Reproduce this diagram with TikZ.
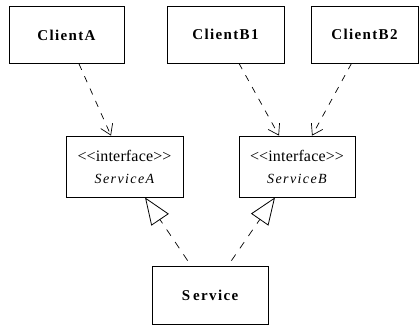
\documentclass[tikz,border=0pt]{standalone}
\usepackage{fontspec}
\setmainfont{Liberation Serif}
\newfontfamily\namefont[LetterSpace=9]{Liberation Serif}
\newfontfamily\stereofont[LetterSpace=1]{Liberation Serif}
\newfontfamily\ifacenamefont[LetterSpace=10]{Liberation Serif}
\usetikzlibrary{arrows.meta}

\tikzset{
  classbox/.style={draw, line width=0.8pt, inner sep=0pt, minimum width=#1},
  classname/.style={font=\namefont\bfseries\fontsize{15}{17}\selectfont},
  iface/.style={font=\stereofont\fontsize{16}{22}\selectfont, align=center},
  dep/.style={line width=0.7pt, dash pattern=on 6.5pt off 7pt,
              -{Straight Barb[length=10pt, width=13pt, line width=0.7pt]}},
  realize/.style={line width=0.7pt, dash pattern=on 7.5pt off 7.5pt, shorten <=6pt,
              -{Triangle[open, fill=white, length=27pt, width=21pt, line width=0.8pt]}}
}

\begin{document}
\begin{tikzpicture}[x=1pt, y=-1pt]
  \useasboundingbox (0,0) rectangle (419,327);

  % clients
  \node[classbox=115pt, minimum height=57pt, classname] (ca)  at (66.5,35)  {ClientA};
  \node[classbox=117pt, minimum height=57pt, classname] (cb1) at (225.5,34.5) {ClientB1};
  \node[classbox=107pt, minimum height=57pt, classname] (cb2) at (364.5,34.5) {ClientB2};

  % interfaces
  \node[classbox=117pt, minimum height=61pt, iface] (sa) at (124.5,166.5)
    {<<interface>>\\{\ifacenamefont\itshape\fontsize{14}{16}\selectfont ServiceA}};
  \node[classbox=116pt, minimum height=61pt, iface] (sb) at (297,166.5)
    {<<interface>>\\{\ifacenamefont\itshape\fontsize{14}{16}\selectfont ServiceB}};

  % implementation
  \node[classbox=116pt, minimum height=58pt, classname] (svc) at (210,295)
    {S\kern3pt ervice};

  % dependencies
  \draw[dep] ([xshift=12.5pt]ca.south)  -- ([xshift=-13.5pt]sa.north);
  \draw[dep] ([xshift=13.5pt]cb1.south) -- ([xshift=-18pt]sb.north);
  \draw[dep] ([xshift=-13pt]cb2.south)  -- ([xshift=15pt]sb.north);

  % realizations
  \draw[realize] ([xshift=-19pt]svc.north) -- ([xshift=20.5pt]sa.south);
  \draw[realize] ([xshift=18pt]svc.north)  -- ([xshift=-22pt]sb.south);
\end{tikzpicture}
\end{document}
